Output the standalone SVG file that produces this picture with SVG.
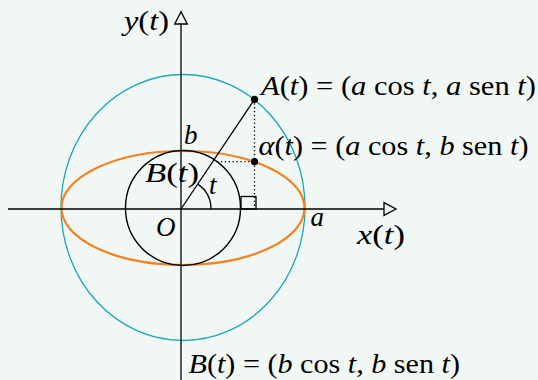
<svg xmlns="http://www.w3.org/2000/svg" width="538" height="380" viewBox="0 0 538 380">
<style>
.t{font-family:"Liberation Serif","Times New Roman",serif;font-size:27px;fill:#000}
.i{font-style:italic}
.ax{stroke:#000;stroke-width:1.3;fill:none}
.dot{stroke:#000;stroke-width:1.3;stroke-dasharray:1.3 2.6;fill:none}
</style>
<rect width="538" height="380" fill="#f0f7f4"/>
<g id="curves">
<ellipse id="circleA" cx="183" cy="207.5" rx="122" ry="133" fill="none" stroke="#1ba6b8" stroke-width="1.3"/>
<ellipse id="ellipse" cx="183" cy="208" rx="121.5" ry="57" fill="none" stroke="#f5821f" stroke-width="2.2"/>
<circle id="circleB" cx="183" cy="208" r="57.5" fill="none" stroke="#000" stroke-width="1.4"/>
</g>
<g id="connectors">
<line class="ax" x1="8" y1="209" x2="384" y2="209"/>
<polygon points="384,202.7 396,209 384,215.3" fill="#f0f7f4" stroke="#000" stroke-width="1.3"/>
<line class="ax" x1="181" y1="380" x2="181" y2="24"/>
<polygon points="174.7,24 181,11.7 187.3,24" fill="#f0f7f4" stroke="#000" stroke-width="1.3"/>
<line class="ax" x1="181" y1="209" x2="254.5" y2="99.3"/>
<path class="ax" d="M211,209 A30,30 0 0 0 197.7,184.1"/>
<line class="dot" x1="254.5" y1="99.3" x2="254.5" y2="209"/>
<line class="dot" x1="217" y1="161.7" x2="254.5" y2="161.7"/>
<rect class="ax" x="241" y="196.5" width="15" height="12.5"/>
</g>
<g id="points">
<circle cx="254.5" cy="99.3" r="3.6" fill="#000"/>
<circle cx="254.5" cy="161.7" r="3.6" fill="#000"/>
</g>
<g id="labels">
<text class="t" x="261" y="95" textLength="275" lengthAdjust="spacingAndGlyphs"><tspan class="i">A</tspan>(<tspan class="i">t</tspan>) = (<tspan class="i">a</tspan> cos <tspan class="i">t</tspan>, <tspan class="i">a</tspan> sen <tspan class="i">t</tspan>)</text>
<text class="t" x="258.5" y="155" textLength="270" lengthAdjust="spacingAndGlyphs"><tspan class="i">α</tspan>(<tspan class="i">t</tspan>) = (<tspan class="i">a</tspan> cos <tspan class="i">t</tspan>, <tspan class="i">b</tspan> sen <tspan class="i">t</tspan>)</text>
<text class="t" x="188.5" y="372.5" textLength="271.5" lengthAdjust="spacingAndGlyphs"><tspan class="i">B</tspan>(<tspan class="i">t</tspan>) = (<tspan class="i">b</tspan> cos <tspan class="i">t</tspan>, <tspan class="i">b</tspan> sen <tspan class="i">t</tspan>)</text>
<text class="t" x="124" y="30" textLength="45" lengthAdjust="spacingAndGlyphs"><tspan class="i">y</tspan>(<tspan class="i">t</tspan>)</text>
<text class="t" x="357" y="243.5" textLength="48" lengthAdjust="spacingAndGlyphs"><tspan class="i">x</tspan>(<tspan class="i">t</tspan>)</text>
<text class="t i" x="310.5" y="226">a</text>
<text class="t i" x="184" y="144">b</text>
<text class="t" x="145" y="181.7" textLength="54" lengthAdjust="spacingAndGlyphs"><tspan class="i">B</tspan>(<tspan class="i">t</tspan>)</text>
<text class="t i" x="209" y="194">t</text>
<text class="t i" x="156" y="235.7">O</text>
</g>
</svg>
